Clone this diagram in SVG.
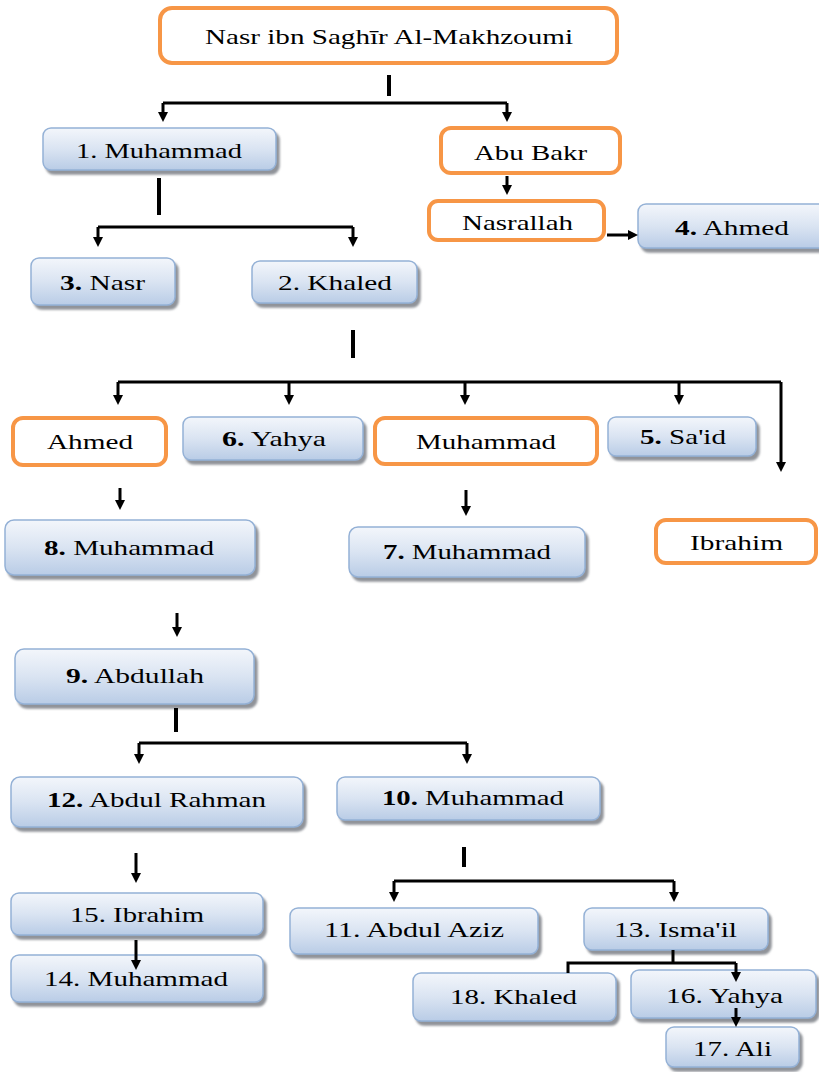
<svg xmlns="http://www.w3.org/2000/svg" width="819" height="1072" viewBox="0 0 819 1072">
<defs>
<linearGradient id="blueGrad" x1="0" y1="0" x2="0" y2="1">
<stop offset="0" stop-color="#f3f6fb"/>
<stop offset="0.5" stop-color="#dae4f2"/>
<stop offset="1" stop-color="#b9cce6"/>
</linearGradient>
<filter id="shadow" x="-10%" y="-20%" width="125%" height="150%">
<feDropShadow dx="3" dy="4" stdDeviation="1.2" flood-color="#7d8087" flood-opacity="0.85"/>
</filter>
<marker id="arrow" viewBox="0 0 10 10" refX="5" refY="5" markerUnits="userSpaceOnUse" markerWidth="10" markerHeight="15" orient="auto">
<path d="M0,0 L10,5 L0,10 z" fill="#000"/>
</marker>
</defs>
<style>
.blue{fill:url(#blueGrad);stroke:#94b1d6;stroke-width:1.5;filter:url(#shadow)}
.orange{fill:#fff;stroke:#f79646;stroke-width:4}
text{font-family:"Liberation Serif","Times New Roman",serif;font-size:22px;fill:#000}
.b{font-weight:bold}
.ln{fill:none;stroke:#000;stroke-width:3}
.tick{fill:none;stroke:#000;stroke-width:4}
.ar{fill:none;stroke:#000;stroke-width:3;marker-end:url(#arrow)}
</style>

<g id="nodes">
<g id="n-root"><rect class="orange" x="160" y="8" width="457" height="55" rx="12"/><text x="205" y="44" textLength="368" lengthAdjust="spacingAndGlyphs">Nasr ibn Saghīr Al-Makhzoumi</text></g>
<g id="n-1"><rect class="blue" x="43" y="128" width="233" height="42" rx="8"/><text x="76" y="158" textLength="166" lengthAdjust="spacingAndGlyphs">1. Muhammad</text></g>
<g id="n-abubakr"><rect class="orange" x="441" y="128" width="179" height="45" rx="10"/><text x="474" y="160" textLength="113" lengthAdjust="spacingAndGlyphs">Abu Bakr</text></g>
<g id="n-nasrallah"><rect class="orange" x="429" y="201" width="175" height="39" rx="9"/><text x="462" y="230" textLength="111" lengthAdjust="spacingAndGlyphs">Nasrallah</text></g>
<g id="n-4"><rect class="blue" x="638" y="204" width="190" height="44" rx="8"/><text x="675" y="235" textLength="114" lengthAdjust="spacingAndGlyphs"><tspan class="b">4.</tspan> Ahmed</text></g>
<g id="n-3"><rect class="blue" x="31" y="258" width="144" height="47" rx="8"/><text x="60" y="290" textLength="85" lengthAdjust="spacingAndGlyphs"><tspan class="b">3.</tspan> Nasr</text></g>
<g id="n-2"><rect class="blue" x="252" y="261" width="165" height="42" rx="8"/><text x="278" y="290" textLength="114" lengthAdjust="spacingAndGlyphs">2. Khaled</text></g>
<g id="n-ahmed"><rect class="orange" x="13" y="418" width="153" height="47" rx="10"/><text x="47" y="449" textLength="86" lengthAdjust="spacingAndGlyphs">Ahmed</text></g>
<g id="n-6"><rect class="blue" x="183" y="417" width="180" height="43" rx="8"/><text x="222" y="446" textLength="104" lengthAdjust="spacingAndGlyphs"><tspan class="b">6.</tspan> Yahya</text></g>
<g id="n-muhammad"><rect class="orange" x="375" y="418" width="222" height="46" rx="10"/><text x="416" y="449" textLength="140" lengthAdjust="spacingAndGlyphs">Muhammad</text></g>
<g id="n-5"><rect class="blue" x="608" y="417" width="148" height="39" rx="8"/><text x="640" y="444" textLength="86" lengthAdjust="spacingAndGlyphs"><tspan class="b">5.</tspan> Sa'id</text></g>
<g id="n-8"><rect class="blue" x="5" y="520" width="250" height="55" rx="9"/><text x="44" y="555" textLength="170" lengthAdjust="spacingAndGlyphs"><tspan class="b">8.</tspan> Muhammad</text></g>
<g id="n-7"><rect class="blue" x="349" y="527" width="236" height="50" rx="9"/><text x="383" y="559" textLength="168" lengthAdjust="spacingAndGlyphs"><tspan class="b">7.</tspan> Muhammad</text></g>
<g id="n-ibrahim"><rect class="orange" x="656" y="520" width="160" height="43" rx="10"/><text x="690" y="550" textLength="93" lengthAdjust="spacingAndGlyphs">Ibrahim</text></g>
<g id="n-9"><rect class="blue" x="15" y="649" width="239" height="55" rx="9"/><text x="66" y="683" textLength="138" lengthAdjust="spacingAndGlyphs"><tspan class="b">9.</tspan> Abdullah</text></g>
<g id="n-12"><rect class="blue" x="11" y="777" width="292" height="50" rx="9"/><text x="47" y="807" textLength="219" lengthAdjust="spacingAndGlyphs"><tspan class="b">12.</tspan> Abdul Rahman</text></g>
<g id="n-10"><rect class="blue" x="337" y="777" width="263" height="43" rx="8"/><text x="382" y="805" textLength="182" lengthAdjust="spacingAndGlyphs"><tspan class="b">10.</tspan> Muhammad</text></g>
<g id="n-15"><rect class="blue" x="11" y="893" width="252" height="42" rx="8"/><text x="70" y="922" textLength="134" lengthAdjust="spacingAndGlyphs">15. Ibrahim</text></g>
<g id="n-14"><rect class="blue" x="11" y="955" width="252" height="47" rx="8"/><text x="44" y="986" textLength="184" lengthAdjust="spacingAndGlyphs">14. Muhammad</text></g>
<g id="n-11"><rect class="blue" x="290" y="908" width="248" height="46" rx="8"/><text x="324" y="937" textLength="180" lengthAdjust="spacingAndGlyphs">11. Abdul Aziz</text></g>
<g id="n-13"><rect class="blue" x="584" y="908" width="184" height="42" rx="8"/><text x="614" y="937" textLength="123" lengthAdjust="spacingAndGlyphs">13. Isma'il</text></g>
<g id="n-18"><rect class="blue" x="413" y="973" width="203" height="48" rx="8"/><text x="450" y="1004" textLength="127" lengthAdjust="spacingAndGlyphs">18. Khaled</text></g>
<g id="n-16"><rect class="blue" x="631" y="970" width="185" height="48" rx="8"/><text x="666" y="1003" textLength="117" lengthAdjust="spacingAndGlyphs">16. Yahya</text></g>
<g id="n-17"><rect class="blue" x="666" y="1027" width="133" height="40" rx="8"/><text x="693" y="1056" textLength="79" lengthAdjust="spacingAndGlyphs">17. Ali</text></g>
</g>

<g id="connectors">
<line class="tick" x1="389" y1="75" x2="389" y2="96"/>
<path class="ln" d="M163,103 H507"/>
<path class="ar" d="M163,103 V117"/>
<path class="ar" d="M507,103 V117"/>
<path class="ar" d="M507,176 V190"/>
<path class="ar" d="M607,235 H633"/>
<line class="tick" x1="159" y1="178" x2="159" y2="215"/>
<path class="ln" d="M98,227 H353"/>
<path class="ar" d="M98,227 V242"/>
<path class="ar" d="M353,227 V242"/>
<line class="tick" x1="353" y1="330" x2="353" y2="358"/>
<path class="ln" d="M118,382 H781"/>
<path class="ar" d="M118,382 V400"/>
<path class="ar" d="M289,382 V400"/>
<path class="ar" d="M465,382 V400"/>
<path class="ar" d="M679,382 V400"/>
<path class="ar" d="M781,382 V467"/>
<path class="ar" d="M120,488 V505"/>
<path class="ar" d="M466,490 V511"/>
<path class="ar" d="M177,613 V632"/>
<line class="tick" x1="176" y1="708" x2="176" y2="732"/>
<path class="ln" d="M139,743 H467"/>
<path class="ar" d="M139,743 V759"/>
<path class="ar" d="M467,743 V759"/>
<path class="ar" d="M136,853 V878"/>
<path class="ar" d="M136,940 V965"/>
<line class="tick" x1="464" y1="847" x2="464" y2="867"/>
<path class="ln" d="M394,881 H674"/>
<path class="ar" d="M394,881 V897"/>
<path class="ar" d="M674,881 V897"/>
<path class="ln" d="M673,950 V963 M568,973 V963 H736"/>
<path class="ar" d="M736,963 V977"/>
<path class="ar" d="M736,1008 V1022"/>
</g>
</svg>
